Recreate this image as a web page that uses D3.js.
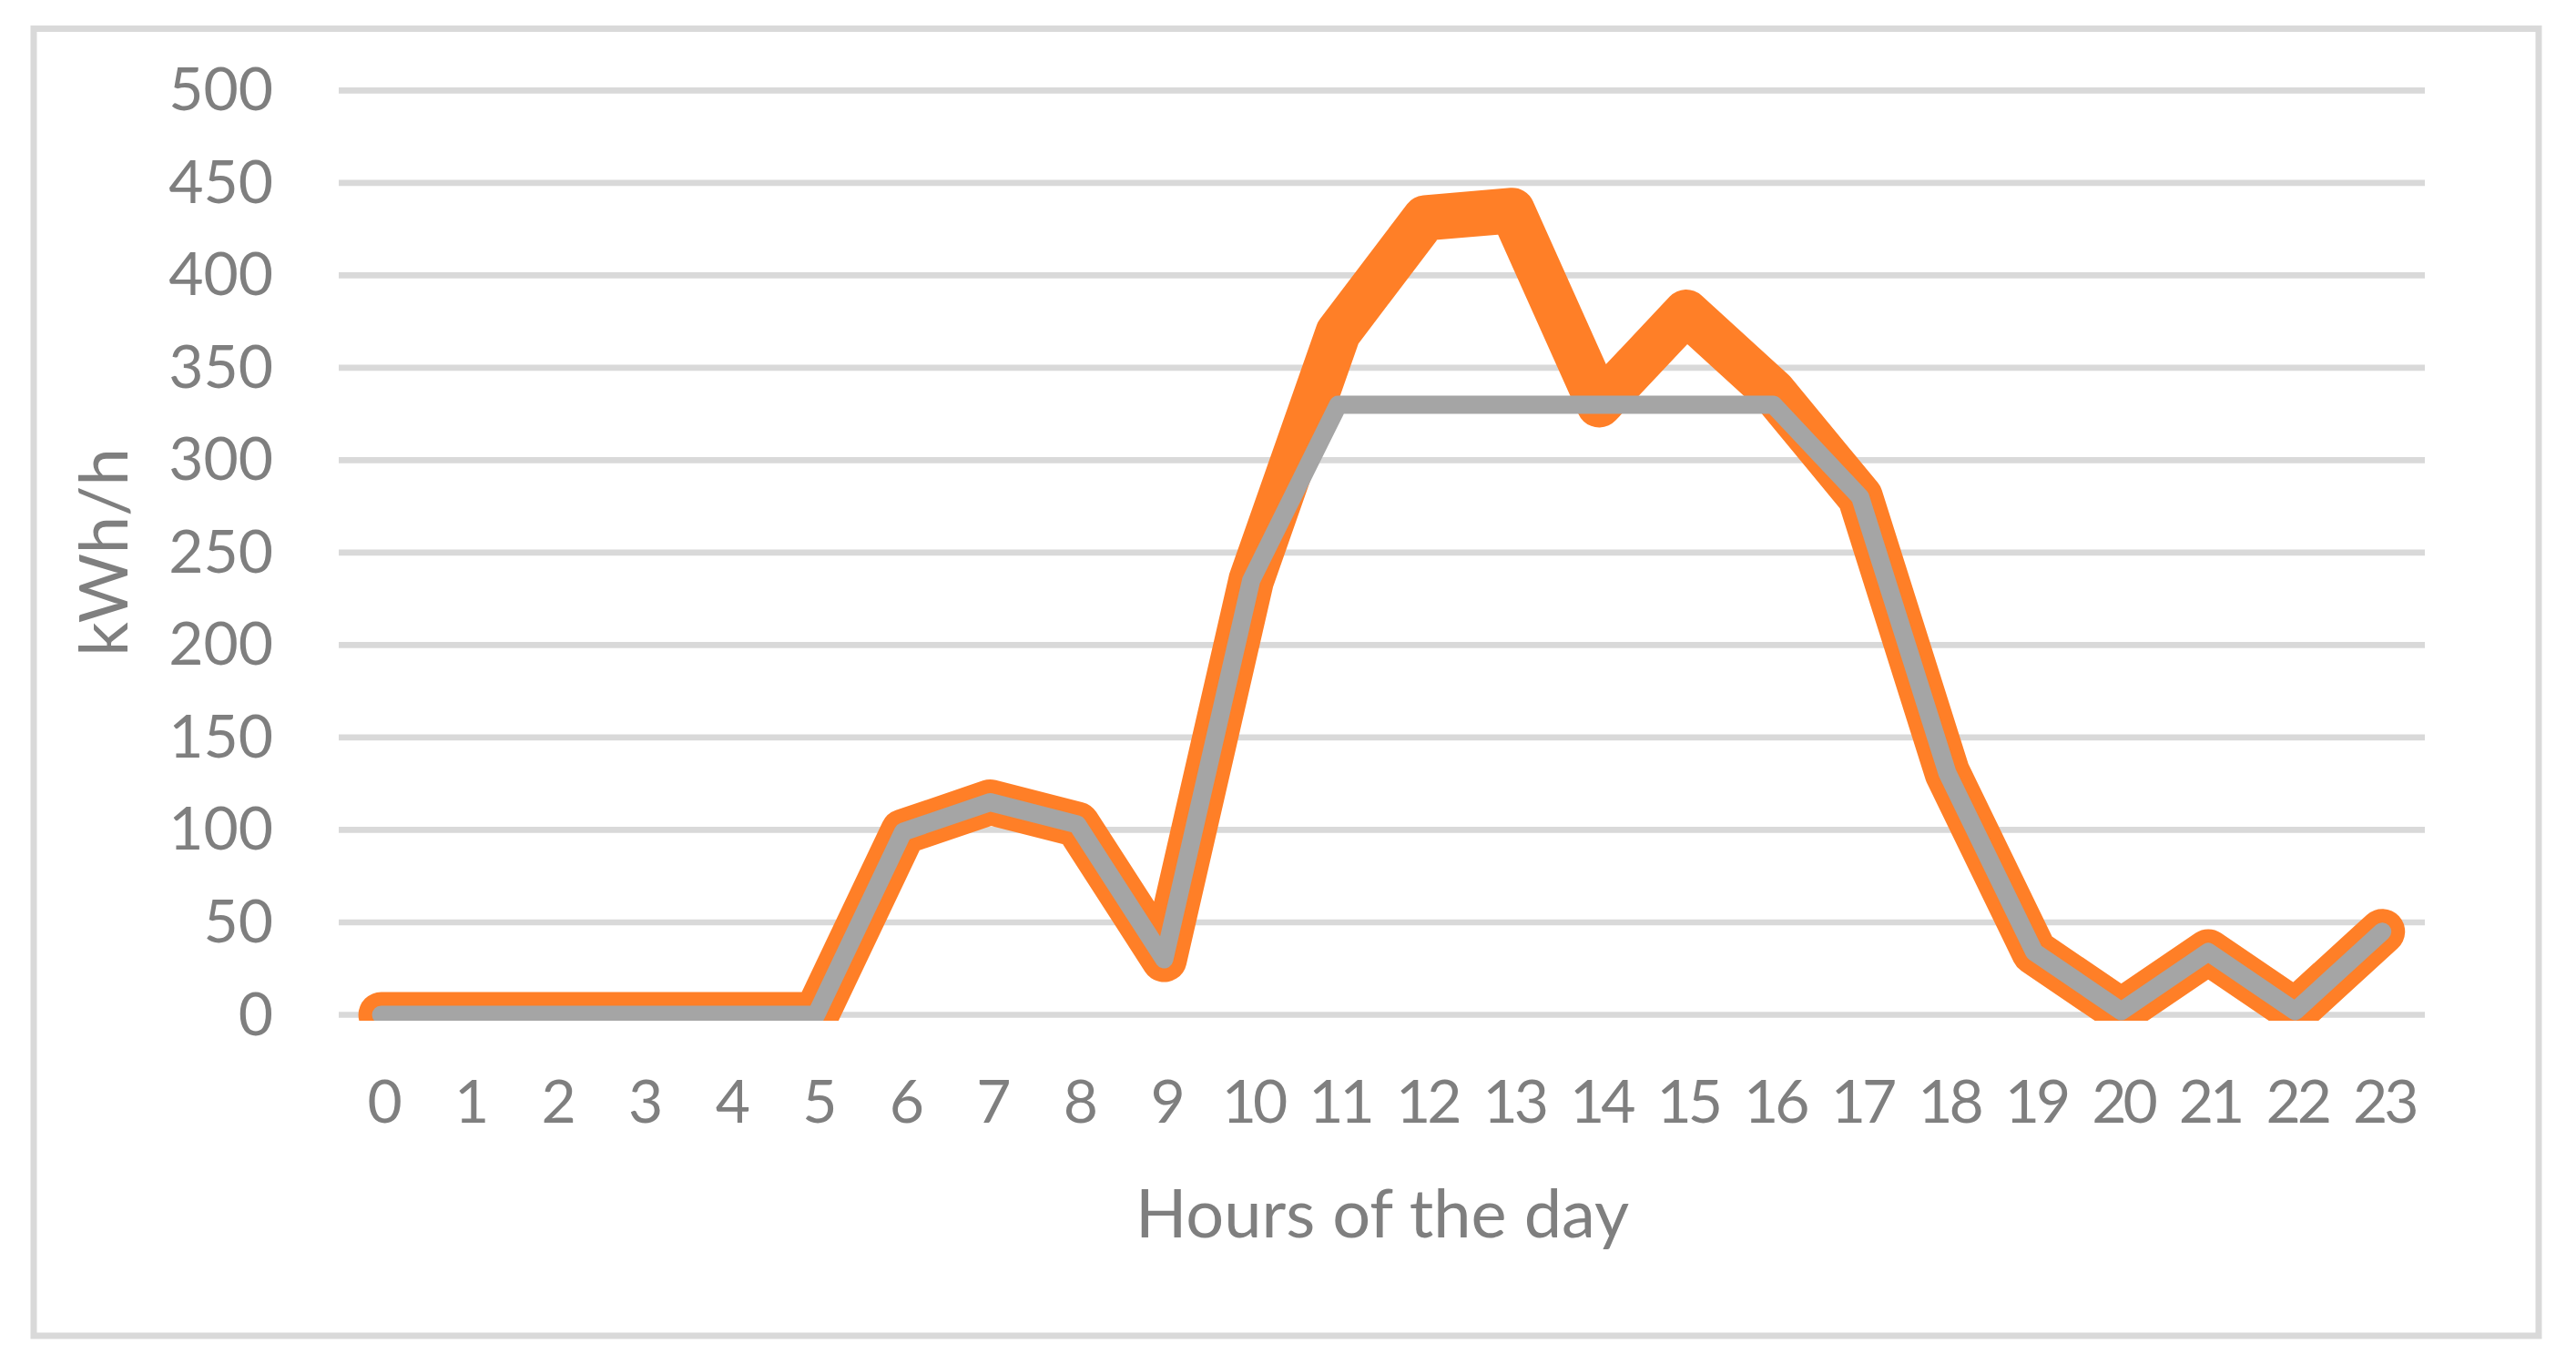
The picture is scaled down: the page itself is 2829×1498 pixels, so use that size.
<!DOCTYPE html>
<html>
<head>
<meta charset="utf-8">
<script src="https://cdn.jsdelivr.net/npm/d3@7"></script>
<style>
  html, body { margin: 0; padding: 0; background: #ffffff; }
  svg { display: block; }
  text { font-family: Lato, "Open Sans", "Noto Sans", sans-serif; fill: #7f7f7f; }
</style>
</head>
<body>
<script>
// ---- data ----
const hours = [0,1,2,3,4,5,6,7,8,9,10,11,12,13,14,15,16,17,18,19,20,21,22,23];
const orangeValues = [0,0,0,0,0,0,99,115,103,30,235,369,431,435,330,380,337,280,131,34,2,34,2,45];
const grayValues   = [0,0,0,0,0,0,99,115,103,30,235,330,330,330,330,330,330,280,131,34,2,34,2,45];
const yTicks = [0,50,100,150,200,250,300,350,400,450,500];
const xTitle = "Hours of the day";
const yTitle = "kWh/h";

// ---- layout ----
const W = 2829, H = 1498;
const plot = { left: 370.8, right: 2664, top: 99.3, bottom: 1114.5 };

const svg = d3.select("body").append("svg")
  .attr("width", W).attr("height", H);

svg.append("rect").attr("x", 0).attr("y", 0).attr("width", W).attr("height", H).attr("fill", "#ffffff");

// outer chart border
svg.append("rect")
  .attr("x", 37).attr("y", 31.5)
  .attr("width", 2788 - 37).attr("height", 1467 - 31.5)
  .attr("fill", "none").attr("stroke", "#d9d9d9").attr("stroke-width", 7);

const x = d3.scalePoint().domain(hours).range([plot.left, plot.right]).padding(0.5);
const y = d3.scaleLinear().domain([0, 500]).range([plot.bottom, plot.top]);

// gridlines
svg.append("g").selectAll("line").data(yTicks).join("line")
  .attr("x1", 372).attr("x2", 2663)
  .attr("y1", d => y(d)).attr("y2", d => y(d))
  .attr("stroke", "#d9d9d9").attr("stroke-width", 6.7);

// y tick labels
svg.append("g").selectAll("text").data(yTicks).join("text")
  .attr("x", 300).attr("y", d => y(d) + 22)
  .attr("text-anchor", "end")
  .attr("font-size", 66)
  .text(d => d);

// x tick labels
svg.append("g").selectAll("text").data(hours).join("text")
  .attr("x", d => x(d) + 2).attr("y", 1233)
  .attr("text-anchor", "middle")
  .attr("font-size", 66)
  .attr("letter-spacing", -4)
  .text(d => d);

// axis titles
svg.append("text")
  .attr("x", 1518).attr("y", 1359)
  .attr("text-anchor", "middle")
  .attr("font-size", 74)
  .text(xTitle);

svg.append("text")
  .attr("transform", "translate(140,606.5) rotate(-90)")
  .attr("text-anchor", "middle")
  .attr("font-size", 74)
  .text(yTitle);

// clip for series
svg.append("defs").append("clipPath").attr("id", "plotClip")
  .append("rect").attr("x", 372).attr("y", 60).attr("width", 2663 - 372).attr("height", 1121 - 60);

const line = d3.line().x((d, i) => x(hours[i])).y(d => y(d));

const g = svg.append("g").attr("clip-path", "url(#plotClip)");

g.append("path")
  .attr("d", line(orangeValues))
  .attr("fill", "none")
  .attr("stroke", "#ff7f27")
  .attr("stroke-width", 50)
  .attr("stroke-linejoin", "round")
  .attr("stroke-linecap", "round");

g.append("path")
  .attr("d", line(grayValues))
  .attr("fill", "none")
  .attr("stroke", "#a5a5a5")
  .attr("stroke-width", 20)
  .attr("stroke-linejoin", "round")
  .attr("stroke-linecap", "round");
</script>
</body>
</html>
